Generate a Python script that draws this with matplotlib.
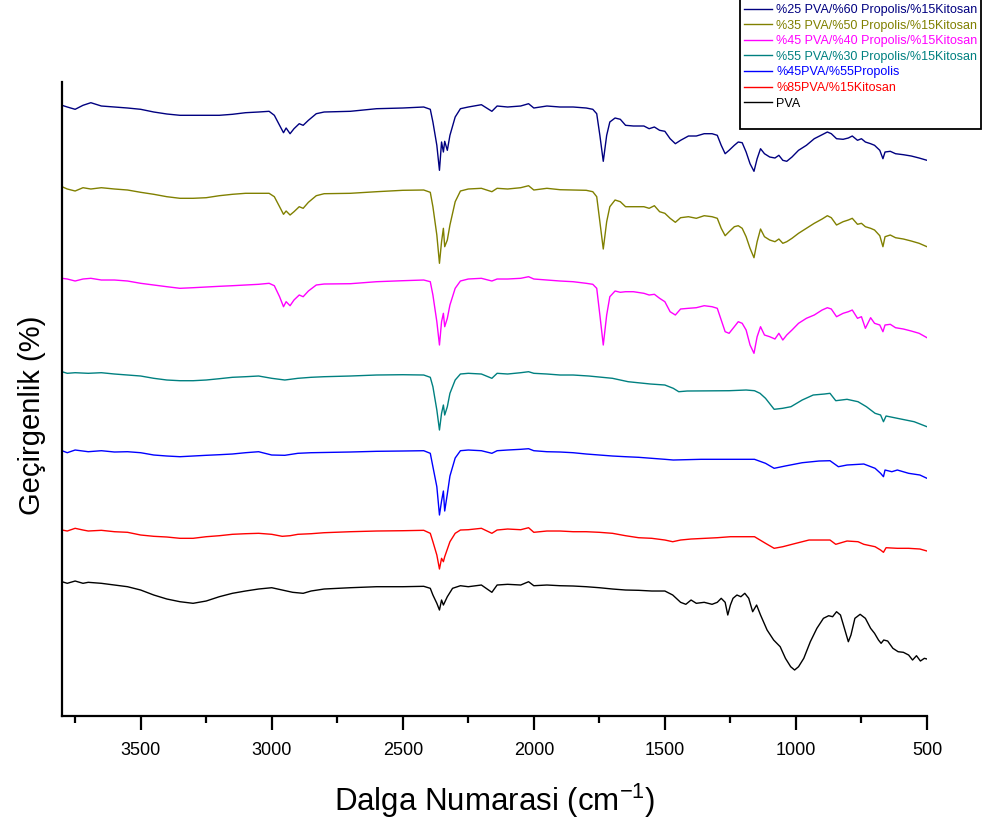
import matplotlib
matplotlib.use("Agg")
import matplotlib.pyplot as plt
from matplotlib.lines import Line2D

plt.rcParams['font.family'] = ['Liberation Sans', 'DejaVu Sans']
plt.rcParams['mathtext.default'] = 'regular'

# ── 데이터 (FTIR, 상대 geçirgenlik, ofsetli) ─────────────────────────
WN_A = [3800, 3780, 3750, 3720, 3690, 3650, 3600, 3550, 3500, 3450,
        3400, 3350, 3300, 3250, 3200, 3150, 3100, 3050, 3010, 2990,
        2970, 2955, 2945, 2930, 2915, 2895, 2880, 2860, 2830, 2800,
        2700, 2600, 2500, 2420, 2395, 2385, 2370, 2360, 2352, 2345,
        2340, 2330, 2320, 2300, 2280, 2250, 2200, 2160, 2140, 2100,
        2050, 2020, 2000, 1950, 1900, 1850, 1800, 1775, 1760, 1748,
        1735, 1722, 1710, 1690, 1670, 1650, 1620, 1580, 1560, 1540,
        1520, 1500, 1480, 1460, 1440, 1410, 1380, 1350, 1320, 1300,
        1285, 1270, 1255, 1235, 1220, 1205, 1190, 1175, 1160, 1148,
        1135, 1120, 1100, 1080, 1065, 1050, 1035, 1015, 990, 960,
        930, 900, 880, 865, 845, 820, 800, 785, 765, 750,
        735, 715, 700, 680, 668, 660, 640, 620, 590, 560,
        530, 500]

T_25_60 = [610.7, 609, 606.7, 610.7, 613.3, 610, 609, 608, 606.7, 604,
           602, 600.7, 600.7, 600.7, 600.7, 601.7, 603.3, 604, 604.7, 600.7,
           590.7, 583.3, 588, 582.3, 587.3, 592.3, 590.7, 595.7, 602.3, 604,
           604.7, 607.3, 608, 609, 606.7, 594, 570.7, 545.7, 574, 564,
           574.7, 565.7, 580.7, 599, 607.3, 609, 611.3, 604.7, 610, 609,
           610, 612.3, 608, 610, 609, 609, 608, 606.7, 602.3, 580.7,
           554.7, 580.7, 594, 598, 596.7, 590.7, 590, 590, 587.3, 589,
           585.7, 584.7, 577.3, 572.3, 575.7, 580, 580, 582.3, 582.3, 580.7,
           570.7, 562.3, 565.7, 570.7, 574, 573.3, 564, 552.3, 544.7, 557.3,
           567.3, 562.3, 559, 558, 560.7, 555.7, 554.7, 559, 565.7, 570.7,
           577.3, 581.3, 584, 582.3, 577.3, 576.7, 578, 580, 575.7, 577.3,
           574, 572.3, 570.7, 565.7, 557.3, 564, 564.7, 562.3, 561.3, 560,
           558, 555.7]

T_35_50 = [529.3, 527, 525, 528.3, 527, 528.3, 527, 526, 523.7, 521.7,
           519.3, 517.7, 517.7, 518.3, 520.3, 521.7, 522.7, 522.7, 522.7, 519.3,
           509.3, 501.7, 505, 501, 504.3, 509.3, 507.7, 513.7, 520.3, 522.3,
           522.7, 524.3, 525.7, 526, 523.7, 509.3, 481, 452.7, 474.3, 487.7,
           469.3, 476, 491, 514.3, 525, 527, 527.7, 524.3, 527.7, 527,
           528.3, 530.3, 526, 527.7, 526.3, 526, 525.7, 524.3, 519.3, 494.3,
           467, 494.3, 509.3, 516, 514.3, 509.3, 509.3, 509.3, 507.7, 510.3,
           504.3, 502.7, 497.7, 493.7, 498.3, 499.3, 497.7, 500.3, 499.3, 497.7,
           487.7, 480.3, 484.3, 489.3, 490.3, 487.7, 479.3, 467.7, 458.3, 474.3,
           487, 479.3, 476, 474.3, 477, 472.7, 474.3, 477.7, 482.7, 487.7,
           492.7, 497, 500.3, 498.3, 491, 494.3, 496, 497.7, 491.7, 492.7,
           489.3, 487.7, 486, 480.3, 469.3, 479.3, 481, 478.3, 477, 475,
           472.7, 469.3]

T_45_40 = [437.7, 437, 435, 437, 437.7, 436, 436, 435, 432.7, 431,
           429.3, 427.7, 428.3, 429, 429.7, 430.3, 431, 431.7, 432.7, 430.3,
           419.3, 409.3, 414.3, 410.3, 416, 421, 419.3, 425, 431, 432,
           432.3, 434.3, 435.3, 436, 434.3, 421, 394.3, 371, 394.3, 402.7,
           389.3, 397.7, 411, 427.7, 435, 437, 437.7, 435, 437, 437,
           437.7, 439.3, 437, 436, 435, 434.3, 432.7, 431.7, 427.7, 401,
           371, 401, 419.3, 425, 423.7, 424.3, 424.3, 422.7, 421, 421.7,
           417.7, 414.3, 404.3, 401, 407, 407.7, 408.3, 410.3, 409.3, 407.7,
           396, 384.3, 382.7, 389.3, 394.3, 392.7, 386, 371, 362.7, 379.3,
           389.3, 381, 379.3, 377, 382.7, 376, 381, 386, 392.7, 397.7,
           401, 406, 408.3, 407, 399.3, 402.7, 404.3, 406, 397.7, 399.3,
           387.7, 398.3, 392.7, 391, 384.3, 391, 391.7, 388.3, 387, 385,
           382.7, 378.3]

WN_55_30 = [3800, 3780, 3750, 3700, 3650, 3600, 3550, 3500, 3450, 3400,
            3350, 3300, 3250, 3200, 3150, 3100, 3050, 3000, 2950, 2900,
            2850, 2800, 2700, 2600, 2500, 2420, 2395, 2385, 2370, 2360,
            2352, 2345, 2340, 2330, 2320, 2300, 2280, 2250, 2200, 2160,
            2140, 2100, 2050, 2020, 2000, 1950, 1900, 1850, 1790, 1700,
            1640, 1555, 1500, 1468, 1447, 1415, 1255, 1190, 1158, 1137,
            1116, 1083, 1051, 1019, 976, 934, 891, 870, 848, 805,
            763, 731, 698, 677, 666, 656, 613, 549, 500]
T_55_30 = [344.3, 342.7, 343.3, 342.7, 343.3, 342, 341, 340, 337.7, 336,
           335.3, 335.3, 336, 337.3, 338.7, 339.3, 340, 337.7, 336, 337.7,
           338.7, 339.3, 340, 341, 341.3, 341, 338.7, 329.3, 306, 286,
           302.7, 311, 301, 309.3, 322.7, 336, 342, 342.7, 342, 337.7,
           342.7, 342, 343.3, 344.3, 342.7, 342, 341, 341, 340, 337.7,
           334.3, 332, 331, 327.7, 324.3, 325, 325.3, 326, 325.3, 322.7,
           317.7, 306.7, 307.7, 309.3, 316, 321, 322, 322.7, 315.3, 316.7,
           314.3, 309.3, 302.7, 301, 294.3, 300, 297.7, 294.3, 289.3]

WN_45P = [3800, 3780, 3750, 3700, 3650, 3600, 3550, 3500, 3450, 3400,
          3350, 3300, 3250, 3200, 3150, 3100, 3050, 3000, 2950, 2900,
          2850, 2700, 2600, 2500, 2420, 2395, 2385, 2370, 2360, 2352,
          2345, 2340, 2330, 2320, 2300, 2280, 2250, 2200, 2160, 2140,
          2100, 2050, 2020, 2000, 1950, 1900, 1850, 1800, 1750, 1700,
          1650, 1600, 1550, 1500, 1468, 1362, 1254, 1158, 1116, 1083,
          1041, 976, 912, 870, 838, 805, 741, 698, 677, 666,
          660, 634, 613, 570, 527, 500]
T_45P = [265.3, 263.3, 266, 264.3, 265.3, 264, 264.3, 263.3, 261, 260,
         259.3, 260, 260.7, 261.3, 262, 263.3, 264.3, 261, 260.7, 262.7,
         263.3, 264, 264.7, 265, 265.3, 262.7, 249.3, 229.3, 201, 215,
         225, 205, 222, 240, 258, 265.3, 266, 265.3, 262.7, 265.3,
         266, 266.7, 267.3, 265.3, 264.3, 264, 263.3, 262, 261, 260,
         259.3, 258.7, 257.7, 256.7, 256, 256.7, 256.7, 256.7, 252.7, 247.7,
         250, 253.3, 255, 255.3, 249.3, 251, 252, 247.7, 242.7, 239.3,
         246, 244.3, 246, 242.7, 241, 237.7]

WN_85K = [3800, 3780, 3750, 3720, 3700, 3650, 3600, 3550, 3500, 3450,
          3400, 3350, 3300, 3250, 3200, 3150, 3100, 3050, 3000, 2960,
          2930, 2900, 2850, 2800, 2700, 2600, 2500, 2420, 2395, 2385,
          2370, 2360, 2352, 2345, 2340, 2320, 2300, 2280, 2250, 2200,
          2160, 2140, 2100, 2050, 2020, 2000, 1950, 1900, 1850, 1800,
          1750, 1700, 1650, 1600, 1550, 1500, 1470, 1440, 1400, 1300,
          1250, 1158, 1116, 1083, 1050, 1000, 950, 870, 848, 805,
          763, 741, 698, 677, 666, 656, 613, 570, 527, 500]
T_85K = [186, 185, 187.7, 186, 185, 185.7, 184.3, 183.7, 181, 179.7,
         179, 177.7, 177.7, 179.3, 180.3, 181.7, 182.3, 182.7, 181.7, 179.7,
         180.3, 181.7, 182.3, 183.3, 184.3, 185, 185.3, 185.7, 182.7, 174.3,
         161, 147, 157.7, 154.3, 159.3, 174.3, 182.7, 186, 186.3, 187.7,
         182.7, 186, 187, 186.3, 188.3, 183.7, 185, 185, 184.3, 184.3,
         183.7, 182.7, 180.3, 178.3, 177.7, 176, 174.3, 176, 177, 178.3,
         179.3, 179.3, 172.7, 167.7, 169.3, 172.7, 176, 176, 171.7, 175,
         174.3, 171.7, 169.3, 166, 163.7, 168.3, 167.7, 167.7, 167, 165]

WN_PVA = [3800, 3780, 3750, 3720, 3700, 3650, 3600, 3550, 3500, 3450,
          3400, 3350, 3300, 3250, 3200, 3150, 3100, 3050, 3000, 2960,
          2920, 2880, 2850, 2800, 2700, 2600, 2500, 2420, 2395, 2385,
          2370, 2360, 2352, 2345, 2330, 2310, 2280, 2250, 2200, 2160,
          2140, 2100, 2050, 2020, 2000, 1950, 1900, 1850, 1800, 1750,
          1700, 1650, 1600, 1550, 1500, 1470, 1440, 1420, 1400, 1380,
          1350, 1320, 1300, 1285, 1270, 1260, 1250, 1240, 1225, 1210,
          1195, 1180, 1165, 1150, 1135, 1110, 1085, 1060, 1040, 1020,
          1005, 990, 970, 945, 920, 895, 875, 860, 845, 830,
          815, 800, 790, 775, 755, 735, 715, 700, 685, 675,
          665, 650, 630, 610, 590, 570, 555, 540, 525, 510,
          500]
T_PVA = [134.3, 132.7, 135, 132.7, 133.7, 132.7, 131, 129.3, 126, 121,
         117, 114.3, 112.7, 115, 119.3, 122.7, 125, 127, 128.3, 126,
         123.7, 122.7, 125, 127, 128.3, 129.3, 129.3, 129.7, 127.7, 121,
         112.7, 106, 116, 111, 119.3, 127.7, 130.3, 129.3, 131, 123.7,
         131, 131.7, 131, 134.3, 130.3, 131, 130.3, 130, 129.3, 128.3,
         127, 126, 125.7, 125, 125, 121, 113.7, 111.7, 116, 112.7,
         113.7, 111.7, 113.7, 117.7, 113.7, 101, 111, 117.7, 121, 119.3,
         122.7, 117.7, 104.3, 111, 101, 86, 76, 69.3, 57.7, 49.3,
         46, 49.3, 57.7, 74.3, 87.7, 97.7, 100.3, 99.3, 104.3, 101,
         87.7, 74.3, 81, 97.7, 101.7, 97.7, 87.7, 82.7, 76, 72.7,
         76, 75, 67.7, 64.3, 63.7, 61, 56, 60.3, 55, 57.7,
         57]

LABELS = ["%25 PVA/%60 Propolis/%15Kitosan",
          "%35 PVA/%50 Propolis/%15Kitosan",
          "%45 PVA/%40 Propolis/%15Kitosan",
          "%55 PVA/%30 Propolis/%15Kitosan",
          "%45PVA/%55Propolis",
          "%85PVA/%15Kitosan",
          "PVA"]
COLORS = ["#000080", "#808000", "#FF00FF", "#008080", "#0000FF", "#FF0000", "#000000"]

series = [(WN_A, T_25_60), (WN_A, T_35_50), (WN_A, T_45_40),
          (WN_55_30, T_55_30), (WN_45P, T_45P), (WN_85K, T_85K), (WN_PVA, T_PVA)]

# ── 그림 ─────────────────────────────────────────────────────────────
fig = plt.figure(figsize=(9.83, 8.25), dpi=100)
ax = fig.add_axes([0.0631, 0.1321, 0.8799, 0.7685])

handles = []
for (x, y), lab, c in zip(series, LABELS, COLORS):
    h, = ax.plot(x, y, color=c, lw=1.0, label=lab)
    handles.append(h)

ax.set_xlim(3800, 500)
ax.set_ylim(0, 634)
ax.set_xticks([3500, 3000, 2500, 2000, 1500, 1000, 500])
ax.set_xticks([3750, 3250, 2750, 2250, 1750, 1250, 750], minor=True)
ax.set_yticks([])
for s in ["top", "right"]:
    ax.spines[s].set_visible(False)
for s in ["left", "bottom"]:
    ax.spines[s].set_linewidth(1.6)
ax.tick_params(axis="x", which="major", length=10, width=1.6, labelsize=13, pad=9)
ax.tick_params(axis="x", which="minor", length=5, width=1.6)

ax.set_xlabel("Dalga Numarasi (cm$^{-1}$)", fontsize=22.5)
ax.xaxis.set_label_coords(0.5, -0.104)
ax.set_ylabel("Geçirgenlik (%)", fontsize=21)
ax.yaxis.set_label_coords(-0.019, 0.475)

# 범례: 위쪽은 그림 밖으로 잘림, 아래쪽 빈 줄
blank = Line2D([], [], color="none")
leg = fig.legend([blank] + handles + [blank], [" "] + LABELS + [" "],
                 loc="lower right", bbox_to_anchor=(0.998, (825 - 129) / 825),
                 fontsize=9, handlelength=2.25, handletextpad=0.3,
                 labelspacing=0.29, borderpad=0.3, borderaxespad=0,
                 fancybox=False, framealpha=1, edgecolor="black")
for txt, h in zip(leg.get_texts(), [blank] + handles + [blank]):
    if h is not blank:
        txt.set_color(h.get_color())
leg.get_frame().set_linewidth(1.3)

plt.savefig("out.png", dpi=100)
